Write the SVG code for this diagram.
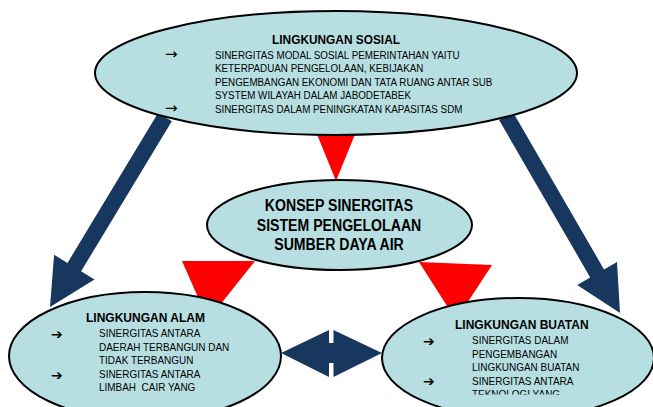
<svg xmlns="http://www.w3.org/2000/svg" width="653" height="407" viewBox="0 0 653 407">
<style>
.node{fill:#B7DFE2;stroke:#000;stroke-width:2}
.nav{fill:#17375E}
.red{fill:#FF0000}
text{font-family:"Liberation Sans",Arial,sans-serif;fill:#000}
.t{font-weight:bold}
.b{white-space:pre}
.sym{font-family:"DejaVu Sans",sans-serif}
</style>
<defs>
<clipPath id="clipR"><rect x="380" y="290" width="273" height="104.5"/></clipPath>
</defs>
<rect width="653" height="407" fill="#fff"/>
<g id="connectors">
<polygon class="red" points="312,122 360,122 336,181"/>
<polygon class="red" points="182,261 255,261 208,320"/>
<polygon class="red" points="419,262 492,265 456,320"/>
<polygon class="nav" points="158.2,112.8 171.8,121.2 81.1,271.3 94.5,279.4 50,307 54.1,254.8 67.5,262.9"/>
<polygon class="nav" points="512.9,112 499.1,120 590.2,277.4 577.2,284.9 620,313 617,261.9 604,269.4"/>
<polygon class="nav" points="281,353 329,330 329,343 333.5,343 333.5,330 382,353 333.5,377 333.5,363 329,363 329,377"/>
</g>
<g id="sosial">
<ellipse class="node" cx="336" cy="73" rx="241" ry="62"/>
<text class="t" font-size="12.5" text-anchor="middle" transform="translate(336,44) scale(0.95,1)">LINGKUNGAN SOSIAL</text>
<text class="sym" font-size="15" x="165" y="59">→</text>
<text class="sym" font-size="15" x="165" y="113">→</text>
<g font-size="11.5">
<text transform="translate(215,59) scale(0.855,1)">SINERGITAS MODAL SOSIAL PEMERINTAHAN YAITU</text>
<text transform="translate(215,72.4) scale(0.855,1)">KETERPADUAN PENGELOLAAN, KEBIJAKAN</text>
<text transform="translate(215,85.8) scale(0.855,1)">PENGEMBANGAN EKONOMI DAN TATA RUANG ANTAR SUB</text>
<text transform="translate(215,99.2) scale(0.855,1)">SYSTEM WILAYAH DALAM JABODETABEK</text>
<text transform="translate(215,112.6) scale(0.855,1)">SINERGITAS DALAM PENINGKATAN KAPASITAS SDM</text>
</g>
</g>
<g id="konsep">
<ellipse class="node" cx="339.5" cy="225" rx="132.5" ry="45"/>
<g class="t" font-size="17" text-anchor="middle">
<text transform="translate(339,211) scale(0.83,1)">KONSEP SINERGITAS</text>
<text transform="translate(339,230.5) scale(0.83,1)">SISTEM PENGELOLAAN</text>
<text transform="translate(339,250) scale(0.83,1)">SUMBER DAYA AIR</text>
</g>
</g>
<g id="alam">
<ellipse class="node" cx="145" cy="356" rx="136" ry="64"/>
<text class="t" font-size="13.5" transform="translate(86,322) scale(0.89,1)">LINGKUNGAN ALAM</text>
<text class="sym t" font-size="14" x="51" y="338.5">➔</text>
<text class="sym t" font-size="14" x="51" y="379.5">➔</text>
<g font-size="10.7">
<text transform="translate(99,336.7) scale(0.93,1)">SINERGITAS ANTARA</text>
<text transform="translate(99,350.7) scale(0.93,1)">DAERAH TERBANGUN DAN</text>
<text transform="translate(99,364) scale(0.93,1)">TIDAK TERBANGUN</text>
<text transform="translate(99,378) scale(0.93,1)">SINERGITAS ANTARA</text>
<text class="b" transform="translate(99,391.3) scale(0.93,1)">LIMBAH  CAIR YANG</text>
</g>
</g>
<g id="buatan">
<ellipse class="node" cx="518" cy="358" rx="136" ry="60"/>
<text class="t" font-size="13.5" transform="translate(455,329) scale(0.89,1)">LINGKUNGAN BUATAN</text>
<text class="sym t" font-size="14" x="423" y="346">➔</text>
<text class="sym t" font-size="14" x="423" y="386">➔</text>
<g font-size="10.7">
<text transform="translate(472,344.3) scale(0.93,1)">SINERGITAS DALAM</text>
<text transform="translate(472,357.7) scale(0.93,1)">PENGEMBANGAN</text>
<text transform="translate(472,371) scale(0.93,1)">LINGKUNGAN BUATAN</text>
<text transform="translate(472,384.5) scale(0.93,1)">SINERGITAS ANTARA</text>
<g clip-path="url(#clipR)"><text transform="translate(472,397.8) scale(0.93,1)">TEKNOLOGI YANG</text></g>
</g>
</g>
</svg>
